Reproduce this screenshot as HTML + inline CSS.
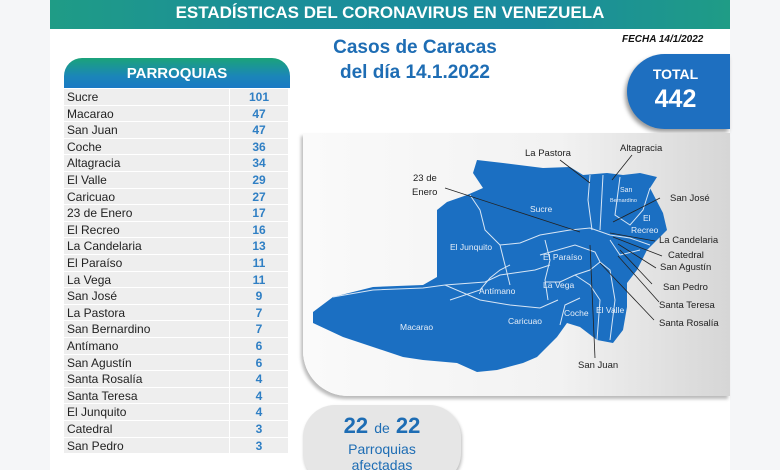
<!DOCTYPE html>
<html><head><meta charset="utf-8"><style>
html,body{margin:0;width:780px;height:470px;overflow:hidden}
body{background:#f5f6f8;font-family:"Liberation Sans",sans-serif;position:relative}
.poster{position:absolute;left:50px;top:0;width:680px;height:470px;background:#fff}
.banner{position:absolute;left:50px;top:0;width:680px;height:29px;background:linear-gradient(90deg,#1f9c86,#1b8f98 30%,#1a8b9e 70%,#1f9c86);color:#fff;font-weight:bold;font-size:17px;line-height:25px;text-align:center}
.hdr{position:absolute;left:64px;top:58px;width:226px;height:30px;border-radius:18px 18px 0 0;background:linear-gradient(180deg,#1ba37a,#1b86b8 60%,#1a7ac4);color:#fff;font-weight:bold;font-size:15px;text-align:center;line-height:32px}
.row{position:absolute;left:64px;width:226px;height:15.6px;font-size:12px;line-height:16px}
.row .n{position:absolute;left:0;width:162px;height:15.6px;background:#eeeeee;padding-left:3px;color:#222}
.row .v{position:absolute;left:166px;width:58px;height:15.6px;background:#eeeeee;text-align:center;color:#2f7fc4;font-weight:bold}
.title{position:absolute;left:320px;top:35px;width:190px;text-align:center;color:#1e6db4;font-weight:bold;font-size:19px;line-height:25px}
.fecha{position:absolute;left:622px;top:34px;font-size:10px;font-style:italic;font-weight:bold;color:#111}
.total{position:absolute;left:627px;top:54px;width:103px;height:75px;background:#1e6fc0;border-radius:38px 0 0 38px;box-shadow:-2px 3px 4px #999;color:#fff;font-weight:bold;text-align:center}
.panel{position:absolute;left:303px;top:133px;width:427px;height:263px;background:linear-gradient(90deg,#fafafa,#f2f2f2 60%,#d6d6d6);border-radius:0 0 0 45px;box-shadow:-2px 3px 3px #bbb}
.pill{position:absolute;left:303px;top:405px;width:158px;height:80px;background:#e6e6e6;border-radius:32px;box-shadow:1px 2px 3px #bbb;text-align:center;color:#1e6db4;font-weight:bold}
svg text{font-family:"Liberation Sans",sans-serif}
</style></head><body>
<div class="poster"></div>
<div class="banner">ESTADÍSTICAS DEL CORONAVIRUS EN VENEZUELA</div>
<div class="title">Casos de Caracas<br>del día 14.1.2022</div>
<div class="fecha">FECHA 14/1/2022</div>
<div class="total"><div style="font-size:14px;margin-top:12px;margin-left:-6px">TOTAL</div><div style="font-size:25px;margin-top:3px;margin-left:-6px">442</div></div>
<div class="hdr">PARROQUIAS</div>
<div id="rows"></div>
<div class="panel"></div>
<svg style="position:absolute;left:0;top:0" width="780" height="470">
<polygon fill="#1b6fc2" points="313,312 333,297 373,287 423,285 437,277 437,240 437,210 447,202 467,195 483,188 473,173 477,160 503,163 543,168 570,167 583,175 607,173 623,175 640,173 657,177 650,188 663,213 667,230 647,250 637,270 627,283 627,307 623,330 613,343 597,340 580,327 567,323 557,337 537,357 523,363 497,370 477,372 457,363 423,360 403,357 373,347 343,337 313,323"/>
<g fill="none" stroke="#d8e6f5" stroke-width="1">
<polyline points="333,297 373,290 423,288 445,285 480,300 510,305 540,308 558,300"/>
<polyline points="445,285 485,282 500,275 535,270 550,265"/>
<polyline points="470,195 480,210 485,230 500,245 520,243 540,235 570,230 590,228 610,235 630,238 650,245"/>
<polyline points="500,245 505,265 510,285"/>
<polyline points="545,240 550,260 545,280 548,300"/>
<polyline points="540,255 575,245 595,252 600,262 590,270 575,275 560,282 545,282"/>
<polyline points="575,275 590,285 600,300 597,340"/>
<polyline points="600,262 610,270 615,300 610,340"/>
<polyline points="590,175 588,200 592,230"/>
<polyline points="603,175 600,230"/>
<polyline points="620,177 615,215 630,225 643,210 650,188"/>
<polyline points="450,300 480,290 490,278 500,270 510,265"/>
<polyline points="560,325 565,305 580,298"/>
<polyline points="610,240 620,255 640,250"/>
</g>
<g stroke="#222" stroke-width="0.8">
<line x1="445" y1="188" x2="580" y2="232"/><line x1="560" y1="160" x2="590" y2="183"/>
<line x1="632" y1="155" x2="612" y2="180"/><line x1="660" y1="198" x2="613" y2="222"/>
<line x1="655" y1="241" x2="610" y2="233"/><line x1="662" y1="256" x2="613" y2="237"/>
<line x1="656" y1="268" x2="618" y2="244"/><line x1="652" y1="284" x2="620" y2="250"/>
<line x1="659" y1="302" x2="618" y2="256"/><line x1="654" y1="320" x2="600" y2="263"/>
<line x1="595" y1="358" x2="590" y2="245"/>
</g>
<g font-size="9.5" fill="#222">
<text x="525" y="156">La Pastora</text><text x="620" y="151">Altagracia</text>
<text x="413" y="181">23 de</text><text x="412" y="195">Enero</text>
<text x="670" y="201">San José</text><text x="659" y="243">La Candelaria</text>
<text x="668" y="258">Catedral</text><text x="660" y="270">San Agustín</text>
<text x="663" y="290">San Pedro</text><text x="659" y="308">Santa Teresa</text>
<text x="659" y="326">Santa Rosalía</text><text x="578" y="368">San Juan</text>
</g>
<g font-size="8.5" fill="#e6eef8">
<text x="530" y="212">Sucre</text><text x="450" y="250">El Junquito</text>
<text x="543" y="260">El Paraíso</text><text x="543" y="288">La Vega</text>
<text x="479" y="294">Antímano</text><text x="508" y="324">Caricuao</text>
<text x="400" y="330">Macarao</text><text x="564" y="316">Coche</text>
<text x="596" y="313">El Valle</text><text x="620" y="192" font-size="7">San</text>
<text x="610" y="202" font-size="5.5">Bernardino</text><text x="643" y="221">El</text><text x="631" y="233">Recreo</text>
</g>
</svg>
<div class="pill"><div style="font-size:22px;margin-top:8px">22 <span style="font-weight:normal;font-size:14px">de</span> 22</div><div style="font-size:14px;font-weight:normal;margin-top:2px">Parroquias</div><div style="font-size:14px;font-weight:normal">afectadas</div></div>
<script>
var d=[["Sucre",101],["Macarao",47],["San Juan",47],["Coche",36],["Altagracia",34],["El Valle",29],["Caricuao",27],["23 de Enero",17],["El Recreo",16],["La Candelaria",13],["El Paraíso",11],["La Vega",11],["San José",9],["La Pastora",7],["San Bernardino",7],["Antímano",6],["San Agustín",6],["Santa Rosalía",4],["Santa Teresa",4],["El Junquito",4],["Catedral",3],["San Pedro",3]];
var h="";d.forEach(function(r,i){h+='<div class="row" style="top:'+(89+i*16.6)+'px"><div class="n">'+r[0]+'</div><div class="v">'+r[1]+'</div></div>';});
document.getElementById("rows").innerHTML=h;
</script>
</body></html>
